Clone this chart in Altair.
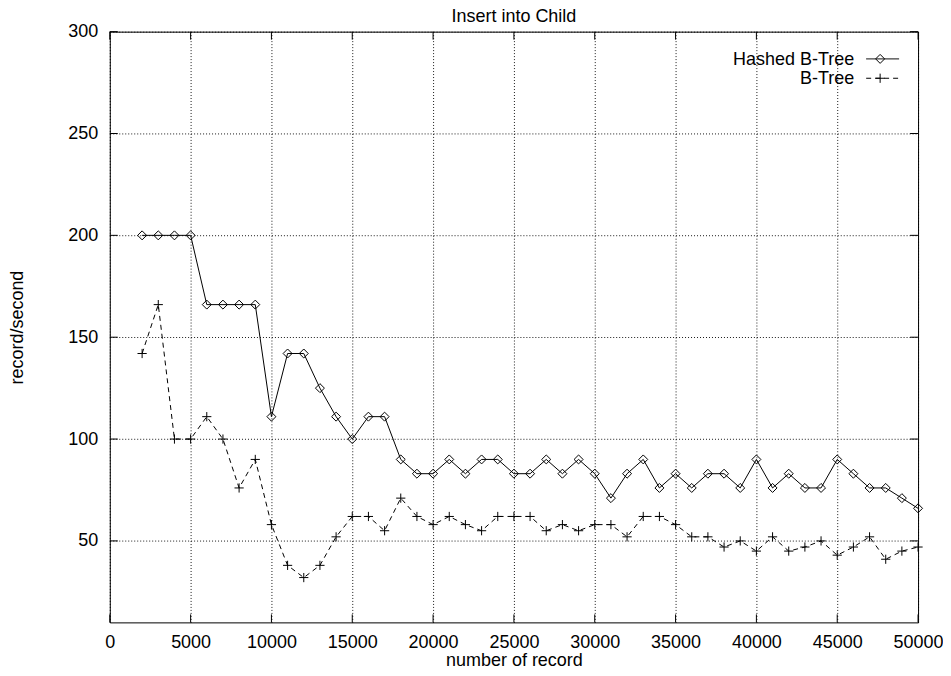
import altair as alt
import pandas as pd

FONT = "Liberation Sans"
FS = 18

# ---- data ----
records = list(range(2000, 50001, 1000))
hashed_btree = [200, 200, 200, 200, 166, 166, 166, 166, 111, 142,
                142, 125, 111, 100, 111, 111, 90, 83, 83, 90,
                83, 90, 90, 83, 83, 90, 83, 90, 83, 71,
                83, 90, 76, 83, 76, 83, 83, 76, 90, 76,
                83, 76, 76, 90, 83, 76, 76, 71, 66]
btree = [142, 166, 100, 100, 111, 100, 76, 90, 58, 38,
         32, 38, 52, 62, 62, 55, 71, 62, 58, 62,
         58, 55, 62, 62, 62, 55, 58, 55, 58, 58,
         52, 62, 62, 58, 52, 52, 47, 50, 45, 52,
         45, 47, 50, 43, 47, 52, 41, 45, 47]
x_ticks = list(range(0, 50001, 5000))
y_ticks = [50, 100, 150, 200, 250, 300]
series_names = ["Hashed B-Tree", "B-Tree"]
chart_title = ["Insert into Child"]

W, H = 810, 592
TICK = 8

df_h = pd.DataFrame({"records": records, "rate": hashed_btree})
df_b = pd.DataFrame({"records": records, "rate": btree})
df_xt = pd.DataFrame({"records": x_ticks})
df_yt = pd.DataFrame({"rate": y_ticks})

x_enc = alt.X(
    "records:Q",
    scale=alt.Scale(domain=[0, 50000], nice=False, zero=False),
    axis=alt.Axis(values=x_ticks, format="d", title="number of record",
                  grid=True, ticks=False, domain=False, labelPadding=11,
                  labelFlush=False,
                  titleX=W / 2, titleY=43.5, titleBaseline="alphabetic"),
)
y_enc = alt.Y(
    "rate:Q",
    scale=alt.Scale(domain=[10, 300], nice=False, zero=False),
    axis=alt.Axis(values=y_ticks, format="d", title="record/second",
                  grid=True, ticks=False, domain=False, labelPadding=12,
                  labelFlush=False,
                  titleX=-92, titleY=H / 2, titleBaseline="middle"),
)

plus_path = "M-1,0L1,0M0,-1L0,1"

line_h = alt.Chart(df_h).mark_line(color="black", strokeWidth=1).encode(x=x_enc, y=y_enc)
pts_h = alt.Chart(df_h).mark_point(shape="diamond", size=81, filled=False, color="black",
                                   strokeWidth=1, opacity=1).encode(x=x_enc, y=y_enc)
line_b = alt.Chart(df_b).mark_line(color="black", strokeWidth=1, strokeDash=[5, 4]).encode(x=x_enc, y=y_enc)
pts_b = alt.Chart(df_b).mark_point(shape=plus_path, size=85, filled=False, color="black",
                                   strokeWidth=1, opacity=1).encode(x=x_enc, y=y_enc)

# inward ticks on all four sides (gnuplot style)
xt_bottom = alt.Chart(df_xt).mark_rule(color="black", strokeWidth=1).encode(
    x=x_enc, y=alt.value(H), y2=alt.value(H - TICK))
xt_top = alt.Chart(df_xt).mark_rule(color="black", strokeWidth=1).encode(
    x=x_enc, y=alt.value(0), y2=alt.value(TICK))
yt_left = alt.Chart(df_yt).mark_rule(color="black", strokeWidth=1).encode(
    y=y_enc, x=alt.value(0), x2=alt.value(TICK))
yt_right = alt.Chart(df_yt).mark_rule(color="black", strokeWidth=1).encode(
    y=y_enc, x=alt.value(W - TICK), x2=alt.value(W))

# title as a text mark above the plot
title_mark = alt.Chart(pd.DataFrame({"t": chart_title})).mark_text(
    align="center", baseline="alphabetic", font=FONT, fontSize=FS, color="black"
).encode(x=alt.value(W / 2), y=alt.value(-10), text="t:N")

# key (top right, text then sample)
key_layers = []
row_y = [27.3, 46.7]
for i, name in enumerate(series_names):
    kdf = pd.DataFrame({"label": [name]})
    key_layers.append(
        alt.Chart(kdf).mark_text(align="right", baseline="alphabetic", font=FONT,
                                 fontSize=FS, color="black").encode(
            x=alt.value(746), y=alt.value(row_y[i] + 6), text="label:N"))
    key_layers.append(
        alt.Chart(kdf).mark_rule(color="black", strokeWidth=1,
                                 strokeDash=[1, 0] if i == 0 else [5, 4]).encode(
            x=alt.value(758), x2=alt.value(791), y=alt.value(row_y[i])))
    key_layers.append(
        alt.Chart(kdf).mark_point(shape="diamond" if i == 0 else plus_path,
                                  size=81 if i == 0 else 85, filled=False,
                                  color="black", strokeWidth=1, opacity=1).encode(
            x=alt.value(772), y=alt.value(row_y[i])))

chart = alt.layer(
    line_h, pts_h, line_b, pts_b, xt_bottom, xt_top, yt_left, yt_right,
    title_mark, *key_layers
).properties(
    width=W, height=H,
    autosize=alt.AutoSizeParams(type="none"),
    padding={"left": 102, "top": 23, "right": 25, "bottom": 44},
).configure_view(
    stroke="black", strokeWidth=1
).configure_axis(
    gridColor="black", gridDash=[1, 2], gridOpacity=0.9, gridWidth=1,
    labelFont=FONT, labelFontSize=FS, labelColor="black",
    titleFont=FONT, titleFontSize=FS, titleFontWeight="normal", titleColor="black",
)

chart.save("out.html", embed_options={"renderer": "svg", "actions": False})
